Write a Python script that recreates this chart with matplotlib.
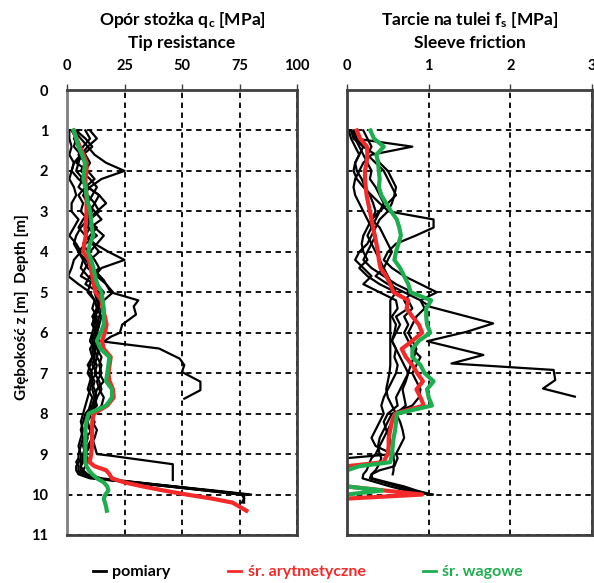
import numpy as np
import matplotlib
matplotlib.use("Agg")
from matplotlib import pyplot as plt

# depth grid [m]: 0.2 m step down to 9.0, then 0.1 m step
z = [1.0, 1.2, 1.4, 1.6, 1.8, 2.0, 2.2, 2.4, 2.6, 2.8, 3.0, 3.2, 3.4, 3.6, 3.8,
     4.0, 4.2, 4.4, 4.6, 4.8, 5.0, 5.2, 5.4, 5.6, 5.8, 6.0, 6.2, 6.4, 6.6, 6.8,
     7.0, 7.2, 7.4, 7.6, 7.8, 8.0, 8.2, 8.4, 8.6, 8.8, 9.0,
     9.1, 9.2, 9.3, 9.4, 9.5, 9.6, 9.7, 9.8, 9.9, 10.0, 10.1, 10.2, 10.3, 10.4]
nan = np.nan

# tip resistance qc [MPa] - single soundings
qc_a = [3, 6, 9, 12, 17, 25, 15, 10, 7, 9, 11, 8, 13, 10, 7, 9, 12, 14, 10, 8,
        14, 13, 14, 12, 14, 13, 12, 11, 12, 11, 13, 10, 12, 13, 11, 8, 7, 6, 7, 6, 5,
        5, 4, 5, 5, 6, 12, 30, 46, 62, 78, nan, nan, nan, nan]
qc_b = [1, 1, 2, 1, 3, 2, 1, 3, 4, 2, 2, 5, 3, 1, 4, 6, 3, 2, 0.5, 5,
        10, 12, 13, 11, 13, 12, 10, 12, 11, 10, 9, 11, 10, 9, 8, 7, 6, 7, 6, 5, 6,
        6, 5, 4, 4, 5, 10, 28, 44, 60, 76, 77, 77, nan, nan]
qc_c = [8, 10, 7, 5, 8, 6, 10, 13, 11, 9, 12, 15, 10, 8, 12, 18, 25, 15, 12, 10,
        9, 12, 11, 13, 12, 11, 10, 12, 13, 12, 10, 12, 11, 12, 13, 10, 9, 10, 11, 9, 8,
        7, 6, 6, 7, 8, 13, 30, 47, 64, 80, nan, nan, nan, nan]
qc_d = [2, 4, 3, 6, 5, 4, 7, 5, 9, 12, 14, 10, 9, 13, 8, 5, 7, 9, 13, 17,
        20, 16, 15, 14, 13, 12, 11, 13, 15, 14, 15, 13, 14, 16, 15, 12, 11, 13, 12, 10, 8,
        8, 7, 6, 6, 8, 12, 28, 44, 60, 75, nan, nan, nan, nan]
qc_e = [5, 3, 5, 8, 10, 8, 6, 9, 14, 12, 10, 7, 5, 8, 11, 14, 10, 8, 6, 12,
        15, 14, 13, 15, 14, 13, 12, 14, 13, 15, 14, 16, 13, 12, 11, 9, 12, 11, 8, 7, 8,
        9, 9, 8, 7, 9, 15, 31, 47, 62, 77, 77, 76, nan, nan]
qc_f = [4, 8, 11, 7, 4, 9, 12, 8, 5, 7, 6, 9, 12, 16, 13, 10, 7, 6, 9, 13,
        16, 15, 13, 12, 11, 13, 14, 12, 11, 13, 12, 14, 15, 13, 12, 10, 9, 8, 9, 8, 7,
        7, 6, 6, 6, 7, 12, 29, 45, 62, 79, nan, nan, nan, nan]
qc_g_depth = [1.0, 1.2, 1.4, 1.6, 1.8, 2.0, 2.2, 2.4, 2.6, 2.8, 3.0, 3.2, 3.4, 3.6,
              3.8, 4.0, 4.2, 4.4, 4.7, 5.0, 5.2, 5.35, 5.55, 5.8, 6.0, 6.1, 6.22,
              6.39, 6.64, 6.8, 6.97, 7.21, 7.42, 7.63]
qc_g = [10, 13, 9, 6, 3, 2, 5, 9, 14, 17, 13, 9, 6, 4, 3, 5, 8, 11, 16, 19, 31,
        29, 30, 24, 23, 19, 16, 40, 49, 51, 50, 58, 58, 51]
qc_h_depth = [5.0, 5.2, 5.4, 5.6, 5.8, 6.0, 6.2, 6.4, 6.6, 6.8, 7.0, 7.2, 7.4, 7.6,
              7.8, 8.0, 8.2, 8.4, 8.6, 8.8, 9.0, 9.04, 9.25, 9.64]
qc_h = [12, 13, 14, 12, 11, 13, 12, 10, 11, 9, 11, 10, 9, 11, 10, 9, 8, 10, 11,
        12, 13, 19, 46, 46]
qc_mean = [2.9, 4.2, 5.6, 7.2, 8.5, 8.5, 8, 8.2, 8.5, 8.5, 8.5, 8.3, 8, 8.2, 7.5,
           7.1, 9.5, 10.3, 11, 11.6, 12.5, 15, 15.5, 16.5, 17.2, 16.5, 15.2, 16, 19,
           18.5, 18, 18.5, 20, 20.3, 17.5, 11.6, 11, 10.9, 10.9, 10.9, 10.5,
           10.2, 9.8, 12, 17, 18.5, 19.5, 25, 33, 42, 52, 63, 72, 75, 78]
qc_wmean = [2.9, 4, 5, 6.5, 7.8, 7.5, 7.1, 8, 8.5, 9.2, 10, 10.5, 10.8, 11.4, 10,
            9.2, 10.5, 11.5, 12.2, 13.2, 15, 15.5, 16, 16, 16, 14.6, 13, 14.6, 18.4,
            18, 17.5, 17, 19.6, 19.6, 17, 9.4, 8.5, 8, 8, 8, 8,
            8, 8, 8.5, 9.5, 11, 13, 16, 17.5, 18, 16.7, 16, 16.5, 17, 17.3]

# sleeve friction fs [MPa] - single soundings
fs_a = [0.05, 0.1, 0.8, 0.3, 0.2, 0.15, 0.1, 0.08, 0.1, 0.15, 0.2, 0.25, 0.3, 0.35,
        0.3, 0.25, 0.2, 0.3, 0.45, 0.6, 0.8, 0.7, 0.75, 0.6, 0.65, 0.6, 0.55, 0.6,
        0.58, 0.62, 0.6, 0.55, 0.5, 0.45, 0.42, 0.45, 0.4, 0.35, 0.3, 0.35, 0.56,
        0, nan, nan, nan, nan, nan, nan, nan, nan, nan, nan, nan, nan, nan]
fs_b = [0.02, 0.05, 0.1, 0.15, 0.1, 0.08, 0.12, 0.2, 0.3, 0.4, 0.51, 1.06, 1.06,
        0.84, 0.6, 0.5, 0.45, 0.55, 0.7, 0.9, 1.1, 0.9, 0.95, 0.85, 0.8, 0.75, 0.8,
        0.85, 0.82, 0.78, 0.75, 0.7, 0.65, 0.6, 0.62, 0.5, 0.45, 0.48, 0.52, 0.55, 0.57,
        0.57, 0.58, 0.57, 0.57, 0.56, nan, nan, nan, nan, nan, nan, nan, nan, nan]
fs_c = [0.1, 0.12, 0.2, 0.35, 0.4, 0.5, 0.55, 0.6, 0.58, 0.55, 0.5, 0.4, 0.35, 0.3,
        0.25, 0.15, 0.1, 0.2, 0.3, 0.2, 0.4, 0.6, 0.62, 0.55, 0.6, 0.58, 0.55, 0.6,
        0.65, 0.7, 0.75, 0.72, 0.68, 0.7, 0.72, 0.6, 0.55, 0.5, 0.45, 0.4, 0.35,
        0.3, 0.28, 0.26, 0.24, 0.2, 0.19, 0.36, 0.53, 0.72, 1.05, nan, nan, nan, nan]
fs_d = [0.08, 0.1, 0.15, 0.2, 0.25, 0.3, 0.28, 0.35, 0.4, 0.45, 0.4, 0.35, 0.3, 0.25,
        0.3, 0.35, 0.4, 0.45, 0.5, 0.55, 0.6, 0.53, 0.53, 0.53, 0.53, 0.53, 0.53,
        0.53, 0.53, 0.53, 0.52, 0.5, 0.48, 0.5, 0.55, 0.6, 0.65, 0.68, 0.7, 0.65, 0.6,
        0.62, 0.6, 0.58, 0.4, 0.3, 0.28, 0.45, 0.62, 0.8, 1.0, nan, nan, nan, nan]
fs_e = [0.2, 0.25, 0.3, 0.25, 0.35, 0.45, 0.5, 0.55, 0.6, 0.5, 0.4, 0.3, 0.25, 0.2,
        0.18, 0.2, 0.25, 0.15, 0.25, 0.4, 0.6, 0.75, 0.8, 0.7, 0.75, 0.7, 0.75, 0.8,
        0.9, 0.85, 0.8, 0.85, 0.9, 0.88, 0.8, 0.55, 0.5, 0.45, 0.4, 0.38, 0.4,
        0.42, 0.4, 0.38, 0.35, 0.3, 0.31, 0.5, 0.7, 0.85, 1.04, nan, nan, nan, nan]
fs_f_depth = [1.0, 1.2, 1.4, 1.6, 1.8, 2.0, 2.2, 2.4, 2.6, 2.8, 3.0, 3.2, 3.4, 3.6,
              3.8, 4.0, 4.2, 4.4, 4.6, 4.8, 5.0, 5.2, 5.36, 5.77, 5.98, 6.21, 6.55,
              6.76, 6.92, 7.17, 7.38, 7.58]
fs_f = [0.05, 0.08, 0.2, 0.15, 0.1, 0.12, 0.18, 0.22, 0.28, 0.32, 0.35, 0.3, 0.4,
        0.45, 0.5, 0.55, 0.5, 0.45, 0.35, 0.5, 0.7, 0.9, 1.02, 1.79, 1.46, 0.98, 1.67,
        1.28, 2.53, 2.55, 2.4, 2.79]
fs_mean = [0.12, 0.16, 0.245, 0.25, 0.24, 0.22, 0.22, 0.23, 0.24, 0.26, 0.28, 0.3,
           0.32, 0.34, 0.36, 0.38, 0.39, 0.41, 0.48, 0.53, 0.57, 0.75, 0.73, 0.8,
           0.88, 0.92, 0.8, 0.67, 0.72, 0.8, 0.86, 0.93, 0.85, 0.9, 0.94, 0.59, 0.55,
           0.53, 0.51, 0.51, 0.5,
           0.47, 0.45, 0, 0, 0, 0, 0, 0, 0.46, 0.92, 0, nan, nan, nan]
fs_wmean = [0.285, 0.33, 0.45, 0.36, 0.38, 0.39, 0.4, 0.39, 0.42, 0.48, 0.54, 0.61,
            0.64, 0.66, 0.63, 0.6, 0.58, 0.65, 0.7, 0.75, 0.78, 1.03, 0.97, 0.97,
            0.98, 1.02, 0.88, 0.8, 0.8, 0.9, 0.95, 1.06, 0.98, 1.0, 1.04, 0.61, 0.6,
            0.59, 0.57, 0.56, 0.55,
            0.54, 0.53, 0.15, 0, 0, 0, 0, 0, 0.43, 0, nan, nan, nan, nan]

qc_ticks = [0, 25, 50, 75, 100]
fs_ticks = [0, 1, 2, 3]
depth_ticks = list(range(0, 12))

RED = "#f42a2a"
GREEN = "#1fae4f"
FONT = "Lato"

plt.rcParams["font.family"] = [FONT, "DejaVu Sans"]
plt.rcParams["font.weight"] = "bold"
plt.rcParams["mathtext.fontset"] = "custom"
plt.rcParams["mathtext.rm"] = FONT + ":bold"
plt.rcParams["mathtext.bf"] = FONT + ":bold"
plt.rcParams["mathtext.it"] = FONT + ":bold"

fig = plt.figure(figsize=(5.94, 5.83), dpi=100)
W, H = 594.0, 583.0
ax1 = fig.add_axes([67 / W, 48 / H, 230 / W, 445 / H])
ax2 = fig.add_axes([347 / W, 48 / H, 245 / W, 445 / H])


def style(ax, xmax, xticks, show_y):
    ax.set_xlim(0, xmax)
    ax.set_ylim(11, 0)
    ax.set_xticks(xticks)
    ax.set_yticks(depth_ticks)
    ax.xaxis.tick_top()
    ax.tick_params(axis="x", top=True, bottom=False, length=4, width=1,
                   pad=8, labelsize=10.5, colors="#404040", labelcolor="black")
    ax.tick_params(axis="y", left=False, right=False, pad=10, labelsize=10.5,
                   labelleft=show_y)
    for lab in ax.get_xticklabels() + ax.get_yticklabels():
        lab.set_fontweight("bold")
    ax.grid(True, color="black", lw=1.3, linestyle=(0, (3, 2.5)))
    for s in ax.spines.values():
        s.set_color("#404040")
        s.set_linewidth(2)
        s.set_zorder(5)
    ax.set_axisbelow(True)


style(ax1, 100, qc_ticks, True)
style(ax2, 3, fs_ticks, False)
ax1.spines["left"].set_color("#7f7f7f")

z = np.array(z)
lw_b = 1.6
for prof in [qc_a, qc_b, qc_c, qc_d, qc_e, qc_f]:
    ax1.plot(prof, z, color="black", lw=lw_b)
ax1.plot(qc_g, qc_g_depth, color="black", lw=lw_b)
ax1.plot(qc_h, qc_h_depth, color="black", lw=lw_b)
ax1.plot(qc_mean, z, color=RED, lw=3)
ax1.plot(qc_wmean, z, color=GREEN, lw=3)

hb = None
for prof in [fs_a, fs_b, fs_c, fs_d, fs_e]:
    hb, = ax2.plot(prof, z, color="black", lw=lw_b)
ax2.plot(fs_f, fs_f_depth, color="black", lw=lw_b)
hr, = ax2.plot(fs_mean, z, color=RED, lw=3)
hg, = ax2.plot(fs_wmean, z, color=GREEN, lw=3)

fig.text(182 / W, 1 - 20 / H, r"Opór stożka q$_{\mathrm{c}}$ [MPa]", ha="center",
         va="center", fontsize=12.5, fontweight="bold")
fig.text(182 / W, 1 - 43 / H, "Tip resistance", ha="center", va="center",
         fontsize=12.5, fontweight="bold")
fig.text(470 / W, 1 - 20 / H, r"Tarcie na tulei f$_{\mathrm{s}}$ [MPa]", ha="center",
         va="center", fontsize=12.5, fontweight="bold")
fig.text(470 / W, 1 - 43 / H, "Sleeve friction", ha="center", va="center",
         fontsize=12.5, fontweight="bold")
fig.text(22 / W, 1 - 307 / H, "Głębokość z [m]  Depth [m]", rotation=90,
         ha="center", va="center", fontsize=11, fontweight="bold")

leg = fig.legend([hb, hr, hg], ["pomiary", "śr. arytmetyczne", "śr. wagowe"],
                 loc="center", bbox_to_anchor=(308 / W, 1 - 572 / H), ncol=3,
                 frameon=False, handlelength=0.8, handletextpad=0.4,
                 columnspacing=3.6, labelcolor="linecolor",
                 prop={"family": [FONT, "DejaVu Sans"], "weight": "bold", "size": 11.5})
for line in leg.get_lines():
    line.set_linewidth(2)

fig.savefig("out.png", dpi=100)
